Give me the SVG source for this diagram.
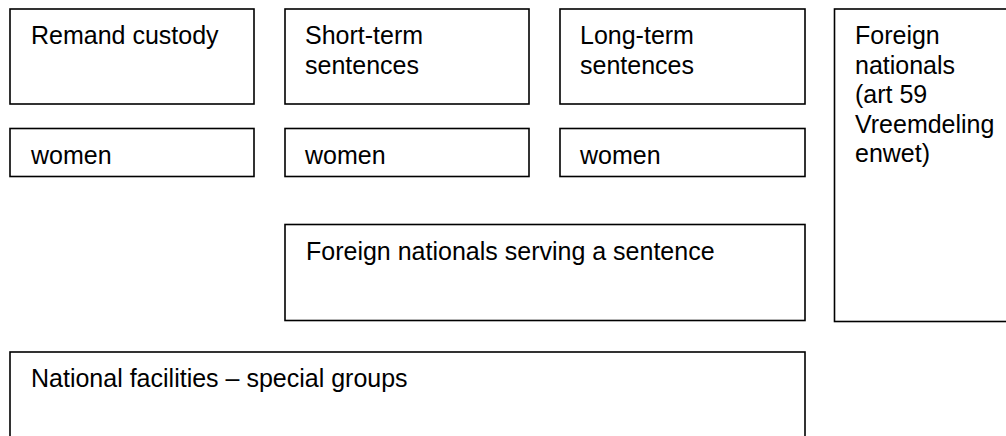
<svg xmlns="http://www.w3.org/2000/svg" width="1006" height="436" viewBox="0 0 1006 436">
  <style>
    .box { fill: #ffffff; stroke: #000000; stroke-width: 1.6; }
    .lbl { font-family: "Liberation Sans", Arial, sans-serif; font-size: 25px; fill: #000000; }
  </style>
  <rect x="0" y="0" width="1006" height="436" fill="#ffffff"/>

  <g id="remand-custody">
    <rect class="box" x="10" y="9" width="244" height="95"/>
    <text class="lbl" x="31" y="44">Remand custody</text>
  </g>
  <g id="short-term">
    <rect class="box" x="285" y="9" width="244" height="95"/>
    <text class="lbl" x="305" y="44">Short-term</text>
    <text class="lbl" x="305" y="74">sentences</text>
  </g>
  <g id="long-term">
    <rect class="box" x="560" y="9" width="245" height="95"/>
    <text class="lbl" x="580" y="44">Long-term</text>
    <text class="lbl" x="580" y="74">sentences</text>
  </g>
  <g id="foreign-art59">
    <rect class="box" x="834.5" y="9" width="200" height="312.5"/>
    <text class="lbl" x="855" y="44">Foreign</text>
    <text class="lbl" x="855" y="73.5">nationals</text>
    <text class="lbl" x="855" y="103">(art 59</text>
    <text class="lbl" x="855" y="132.5">Vreemdeling</text>
    <text class="lbl" x="855" y="162">enwet)</text>
  </g>

  <g id="women-remand">
    <rect class="box" x="10" y="128.5" width="244" height="48"/>
    <text class="lbl" x="31" y="163.5">women</text>
  </g>
  <g id="women-short">
    <rect class="box" x="285" y="128.5" width="244" height="48"/>
    <text class="lbl" x="305" y="163.5">women</text>
  </g>
  <g id="women-long">
    <rect class="box" x="560" y="128.5" width="245" height="48"/>
    <text class="lbl" x="580" y="163.5">women</text>
  </g>

  <g id="foreign-sentence">
    <rect class="box" x="285" y="224.5" width="520" height="96"/>
    <text class="lbl" x="306" y="260">Foreign nationals serving a sentence</text>
  </g>

  <g id="national-facilities">
    <rect class="box" x="10" y="352" width="795" height="120"/>
    <text class="lbl" x="31" y="387">National facilities – special groups</text>
  </g>

  <g id="connectors"></g>
</svg>
